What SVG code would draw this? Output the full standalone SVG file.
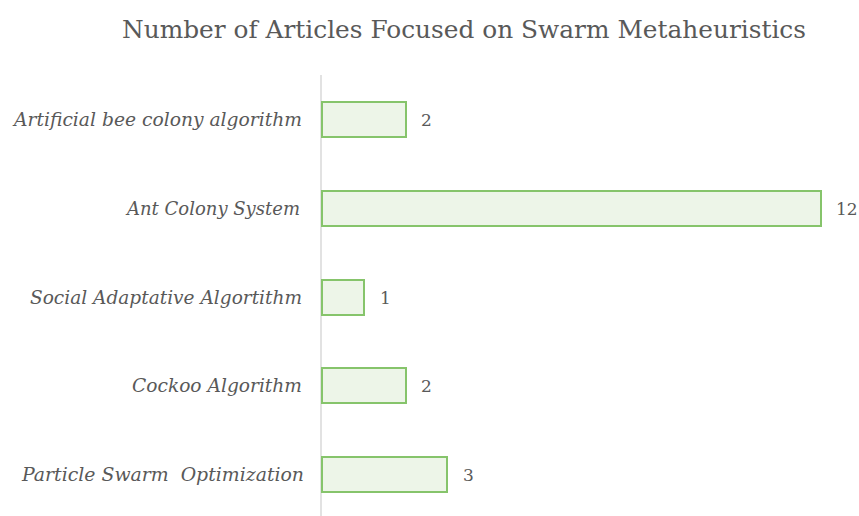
<svg xmlns="http://www.w3.org/2000/svg" width="859" height="516" viewBox="0 0 859 516">
<style>
.title{font-family:"DejaVu Serif","Liberation Serif",serif;font-size:25px;fill:#595959}
.cat{font-family:"DejaVu Serif","Liberation Serif",serif;font-style:italic;font-size:18px;fill:#595959}
.val{font-family:"DejaVu Serif","Liberation Serif",serif;font-size:17px;fill:#595959}
.bar{fill:#EDF5E8;stroke:#86C46B;stroke-width:2}
</style>
<rect width="859" height="516" fill="#ffffff"/>
<text class="title" x="122" y="38" textLength="684" lengthAdjust="spacingAndGlyphs">Number of Articles Focused on Swarm Metaheuristics</text>
<g id="connectors">
<line x1="321" y1="75" x2="321" y2="516" stroke="#D9D9D9" stroke-width="1.5"/>
</g>
<g id="abc">
<rect class="bar" x="322" y="102" width="84" height="35"/>
<text class="cat" x="14" y="126" textLength="288" lengthAdjust="spacingAndGlyphs">Artificial bee colony algorithm</text>
<text class="val" x="421" y="126">2</text>
</g>
<g id="acs">
<rect class="bar" x="322" y="191" width="499" height="35"/>
<text class="cat" x="127" y="215" textLength="173" lengthAdjust="spacingAndGlyphs">Ant Colony System</text>
<text class="val" x="836" y="215">12</text>
</g>
<g id="saa">
<rect class="bar" x="322" y="280" width="42" height="35"/>
<text class="cat" x="30" y="304" textLength="272" lengthAdjust="spacingAndGlyphs">Social Adaptative Algortithm</text>
<text class="val" x="380" y="304">1</text>
</g>
<g id="cockoo">
<rect class="bar" x="322" y="368" width="84" height="35"/>
<text class="cat" x="132" y="392" textLength="170" lengthAdjust="spacingAndGlyphs">Cockoo Algorithm</text>
<text class="val" x="421" y="392">2</text>
</g>
<g id="pso">
<rect class="bar" x="322" y="457" width="125" height="35"/>
<text class="cat" x="22" y="481" textLength="282" lengthAdjust="spacingAndGlyphs" xml:space="preserve">Particle Swarm  Optimization</text>
<text class="val" x="463" y="481">3</text>
</g>
</svg>
